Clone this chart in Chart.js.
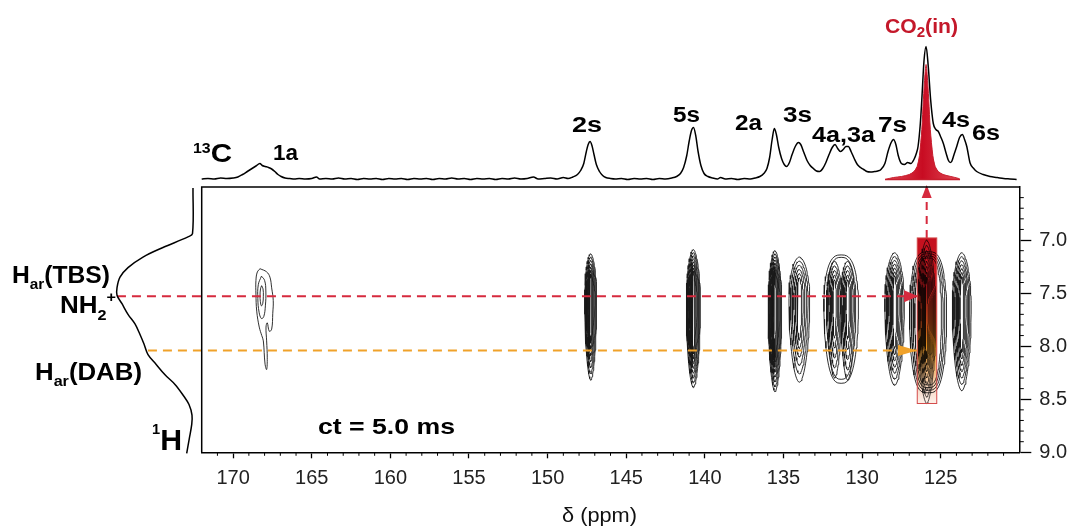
<!DOCTYPE html>
<html><head><meta charset="utf-8">
<script src="https://cdn.jsdelivr.net/npm/chart.js@4.4.1/dist/chart.umd.min.js"></script>
<style>html,body{margin:0;padding:0;background:#fff;}canvas{display:block;}</style>
</head><body>
<canvas id="c" width="1075" height="530"></canvas>
<script>
// ===================== DATA =====================
// 13C projection (top trace): chemical shift (ppm) and intensity (a.u.)
const c13Ppm = [172.0,171.6,171.2,170.8,170.4,170.0,169.7,169.4,169.1,168.8,168.55,168.3,168.15,167.95,167.75,167.55,167.35,167.15,166.95,166.7,166.4,166.1,165.8,165.4,165.0,164.7,164.5,164.1,163.7,163.3,162.9,162.5,162.1,161.7,161.3,160.9,160.5,160.1,159.7,159.3,158.9,158.5,158.1,157.7,157.3,156.9,156.5,156.1,155.7,155.3,154.9,154.5,154.1,153.7,153.3,152.9,152.5,152.1,151.7,151.3,150.9,150.6,150.2,149.8,149.4,149.0,148.7,148.4,148.1,147.9,147.7,147.55,147.42,147.3,147.18,147.05,146.9,146.7,146.5,146.3,146.0,145.7,145.3,144.9,144.5,144.1,143.7,143.3,142.9,142.5,142.1,141.8,141.55,141.35,141.15,141.0,140.85,140.72,140.58,140.43,140.25,140.05,139.8,139.5,139.2,139.0,138.7,138.3,137.9,137.5,137.1,136.8,136.5,136.25,136.05,135.88,135.72,135.58,135.45,135.3,135.12,134.95,134.8,134.62,134.45,134.25,134.05,133.9,133.7,133.5,133.3,133.1,132.9,132.7,132.5,132.3,132.1,131.9,131.72,131.55,131.38,131.2,131.02,130.87,130.7,130.5,130.3,130.1,129.9,129.7,129.45,129.2,129.0,128.8,128.55,128.35,128.15,128.0,127.85,127.7,127.5,127.3,127.1,126.9,126.7,126.55,126.44,126.3,126.2,126.06,125.93,125.79,125.64,125.47,125.3,125.15,124.98,124.83,124.65,124.52,124.4,124.3,124.15,123.98,123.8,123.62,123.48,123.34,123.13,122.9,122.71,122.3,121.86,121.4,121.0,120.6,120.17];
const c13Int = [0.5,1,0.5,1.5,1,1.5,2.5,5,8,11,13.5,16,14,13,12,10.5,8,5,3,1.5,1,0.5,1,0.5,1,2.5,0.5,1,0.5,1.5,0.5,1,0,1,0.5,1,0,1,0.5,1,0,1,0.5,1,0,1,0.5,1.5,0.5,1,0,1,0.5,1,0,1,0.5,1.5,0.5,1,2.5,0.5,1,1.5,0.5,2,1,2.5,5,9,16,27,35,38,34,25,15,8,4,2,1,0.5,1,0,1,0.5,1,0,1,0.5,1.5,3,6,12,24,38,49,52,44,28,14,6,3,1.5,0.5,2,0.5,1,0,1,0.5,1.5,3,6,11,22,40,51,45,32,21,15,13,17,25,33,37,35,27,19,14,11,8.5,8,11,17,25,32,35,31,28,30,33,33,28,21,15,12,10,8,7.5,8,8.5,10,16,28,37,40,35,24,16,15,17,16,20,26,33,55,80,119,133,113,80,56,50,48,42,36,26,19.5,17,18,25,33,42,45,40,33,16.5,11,8,5,3,2,1,0.5,0];
// deconvolved CO2(in) component
const co2Ppm = [128.54,128.0,127.5,127.0,126.7,126.5,126.35,126.2,126.1,126.0,125.93,125.86,125.76,125.66,125.5,125.35,125.15,124.85,124.35,123.85,123.77];
const co2Int = [0,2,3,5,8,13,24,50,80,105,115,105,80,50,24,13,8,5,3,1,0];
// 1H projection (left trace): shift (ppm) and intensity (a.u.)
const h1Ppm = [6.51,6.94,6.97,7.07,7.16,7.26,7.35,7.45,7.52,7.60,7.70,7.79,7.89,7.98,8.08,8.17,8.27,8.36,8.46,8.55,8.65,8.74,8.87,9.01];
const h1Int = [0,0.5,5,30,50,65,73,76,76,71,65,58,53,49,45,37,28,18,10,4,1,1.3,3.7,6.3];
// tick labels
const xTickLabels = [170,165,160,155,150,145,140,135,130,125];
const yTickLabels = [7.0,7.5,8.0,8.5,9.0];
// 2D cross peaks (13C shift, 1H extent, half-width in 13C, contour levels)
const peakNames = ['2s','5s','2a','3s','4a','3a','7s','CO2(in)','6s','4s','4a,3a'];
const peakC13   = [147.26,140.73,135.54,133.99,131.75,130.92,127.93,125.89,123.66,125.80,131.33];
const peakTop   = [7.13,7.09,7.10,7.16,7.20,7.20,7.12,7.00,7.12,7.11,7.14];
const peakBottom= [8.32,8.39,8.43,8.34,8.30,8.32,8.37,8.54,8.42,8.44,8.35];
const peakMid   = [7.55,7.60,7.62,7.55,7.55,7.55,7.60,7.70,7.62,7.70,7.60];
const peakHalfW = [0.38,0.45,0.43,0.66,0.44,0.44,0.62,0.58,0.60,1.18,1.10];
const peakLevels= [7,8,8,6,5,5,7,8,7,4,2];
// peak 1a (weak, irregular) contours
const p1aOuterC = [168.29,167.87,167.66,167.55,167.45,167.48,167.55,167.70,167.83,167.91,167.87,167.83,167.87,167.97,168.08,168.18,168.34,168.50,168.55,168.55,168.46,168.29];
const p1aOuterH = [7.27,7.30,7.35,7.45,7.57,7.69,7.84,7.86,7.78,7.82,7.95,8.11,8.22,8.17,7.95,7.90,7.82,7.67,7.51,7.38,7.30,7.27];
const p1aMidC = [168.2,168.0,167.92,167.95,168.05,168.2,168.35,168.43,168.4,168.2];
const p1aMidH = [7.34,7.38,7.48,7.62,7.72,7.74,7.68,7.55,7.42,7.34];
const p1aInC = [168.19,168.1,168.08,168.12,168.2,168.27,168.29,168.26,168.19];
const p1aInH = [7.43,7.46,7.53,7.6,7.62,7.58,7.52,7.46,7.43];
// guide lines (ppm)
const redGuideC13 = [177.39,126.44], redGuideH1 = 7.53;
const orangeGuideC13 = [175.42,126.51], orangeGuideH1 = 8.04;
const vertGuideC13 = 125.89, vertGuideH1 = [6.98,6.48];
const co2BoxC13 = [126.49,125.25], co2BoxH1 = [6.98,8.54];

// ===================== STYLE / BUILD =====================
const peakWMin = [0.2,0.18,0.18,0.22,0.25,0.25,0.2,0.15,0.2,0.72,0.85];
const peakHMin = [0.55,0.6,0.6,0.5,0.5,0.5,0.55,0.5,0.55,0.9,0.95];
const peakExp  = [1.15,1.15,1.15,1.1,1.1,1.1,1.1,1.2,1.1,0.6,0.7];
const peakLineW= [0.9,0.9,0.9,0.9,0.9,0.9,0.9,0.75,0.9,0.9,0.9];

function lens(c, top, bottom, mid, hw, p){
  const pts=[]; const N=64;
  for(let k=0;k<=N;k++){
    const t=2*Math.PI*k/N, u=Math.cos(t), v=Math.sin(t);
    pts.push({x:c+hw*Math.sign(v)*Math.pow(Math.abs(v),p), y:mid-(u>0?(mid-top):(bottom-mid))*u});
  }
  return pts;
}
const contourSets=[];
peakC13.forEach((c,i)=>{
  const n=peakLevels[i];
  for(let j=0;j<n;j++){
    const f=n>1?j/(n-1):0;
    const w=peakHalfW[i]*(1-(1-peakWMin[i])*f);
    const hs=1-(1-peakHMin[i])*f;
    const mid=peakMid[i];
    contourSets.push({data:lens(c, mid-(mid-peakTop[i])*hs, mid+(peakBottom[i]-mid)*hs, mid, w, peakExp[i]), tension:0, lw:peakLineW[i]});
  }
});
[[p1aOuterC,p1aOuterH],[p1aMidC,p1aMidH],[p1aInC,p1aInH]].forEach(([cs,hs])=>{
  contourSets.push({data:cs.map((c,k)=>({x:c,y:hs[k]})), tension:0.4, lw:0.9});
});

const datasets=[];
datasets.push({label:'13C', data:c13Ppm.map((p,i)=>({x:p,y:c13Int[i]})), xAxisID:'x', yAxisID:'yTop',
  borderColor:'#000', borderWidth:1.5, showLine:true, pointRadius:0, clip:false, cubicInterpolationMode:'monotone'});
datasets.push({label:'CO2', data:co2Ppm.map((p,i)=>({x:p,y:co2Int[i]})), xAxisID:'x', yAxisID:'yTop',
  borderColor:'#c81e2e', borderWidth:1, showLine:true, pointRadius:0, clip:false, tension:0.3, redFill:true});
datasets.push({label:'1H', data:h1Ppm.map((p,i)=>({x:h1Int[i],y:p})), xAxisID:'xProj', yAxisID:'y',
  borderColor:'#000', borderWidth:1.5, showLine:true, pointRadius:0, clip:false, tension:0.35});
datasets.push({label:'redGuide', data:redGuideC13.map(c=>({x:c,y:redGuideH1})), xAxisID:'x', yAxisID:'y',
  borderColor:'#d62a3e', borderWidth:2, borderDash:[9,6], showLine:true, pointRadius:0, clip:false, arrow:{len:14,half:6,color:'#d62a3e'}});
datasets.push({label:'orangeGuide', data:orangeGuideC13.map(c=>({x:c,y:orangeGuideH1})), xAxisID:'x', yAxisID:'y',
  borderColor:'#f0a22a', borderWidth:2, borderDash:[9,6], showLine:true, pointRadius:0, clip:false, arrow:{len:19,half:5.5,color:'#f0a22a'}});
datasets.push({label:'vertGuide', data:vertGuideH1.map(h=>({x:vertGuideC13,y:h})), xAxisID:'x', yAxisID:'y',
  borderColor:'#d62a3e', borderWidth:2, borderDash:[8,6], showLine:true, pointRadius:0, clip:false, arrow:{len:13,half:5,color:'#d62a3e'}});
contourSets.forEach(cs=>datasets.push({label:'contour', data:cs.data, xAxisID:'x', yAxisID:'y',
  borderColor:'#1a1a1a', borderWidth:cs.lw, showLine:true, pointRadius:0, tension:cs.tension, order:5}));

// ===================== PLUGINS =====================
const FONT='"Liberation Sans", Arial, Helvetica, sans-serif';
function rich(ctx, segs, left, right, baseline, color){
  let nat=0;
  segs.forEach(s=>{ctx.font=(s[3]||'bold')+' '+s[1]+'px '+FONT; nat+=ctx.measureText(s[0]).width;});
  let sx=(right-left)/nat; sx=Math.max(0.85,Math.min(1.3,sx));
  ctx.save(); ctx.translate(left,baseline); ctx.scale(sx,1);
  ctx.fillStyle=color; ctx.textAlign='left'; ctx.textBaseline='alphabetic';
  let x=0;
  segs.forEach(s=>{ctx.font=(s[3]||'bold')+' '+s[1]+'px '+FONT; ctx.fillText(s[0],x,s[2]||0); x+=ctx.measureText(s[0]).width;});
  ctx.restore();
}
const decor={
  id:'decor',
  beforeDatasetsDraw(chart){
    const ctx=chart.ctx;
    chart.data.datasets.forEach((ds,i)=>{
      if(!ds.redFill) return;
      const pts=chart.getDatasetMeta(i).data;
      ctx.save(); ctx.beginPath();
      pts.forEach((p,k)=>{k?ctx.lineTo(p.x,p.y):ctx.moveTo(p.x,p.y);});
      ctx.closePath();
      const gx=ctx.createLinearGradient(pts[0].x,0,pts[pts.length-1].x,0);
      gx.addColorStop(0,'#e04a56'); gx.addColorStop(0.5,'#c80c22'); gx.addColorStop(1,'#e04a56');
      ctx.fillStyle=gx; ctx.fill();
      ctx.beginPath(); ctx.moveTo(pts[0].x,pts[0].y); ctx.lineTo(pts[pts.length-1].x,pts[pts.length-1].y);
      ctx.strokeStyle='#c81e2e'; ctx.lineWidth=1.5; ctx.stroke();
      ctx.restore();
    });
  },
  afterDatasetsDraw(chart){
    const ctx=chart.ctx, xs=chart.scales.x, ys=chart.scales.y;
    // highlighted CO2 box, multiplied over the contours
    const x0=xs.getPixelForValue(co2BoxC13[0]), x1=xs.getPixelForValue(co2BoxC13[1]);
    const y0=ys.getPixelForValue(co2BoxH1[0]), y1=ys.getPixelForValue(co2BoxH1[1]);
    const g=ctx.createLinearGradient(0,y0,0,y1);
    g.addColorStop(0,'#c5101f'); g.addColorStop(0.3,'#c81a1e'); g.addColorStop(0.5,'#d8501c');
    g.addColorStop(0.65,'#e8921e'); g.addColorStop(0.8,'#f2b878'); g.addColorStop(0.92,'#f9dccb'); g.addColorStop(1,'#fdf1ea');
    ctx.save(); ctx.globalCompositeOperation='multiply'; ctx.fillStyle=g; ctx.fillRect(x0,y0,x1-x0,y1-y0);
    ctx.globalCompositeOperation='source-over';
    ctx.strokeStyle='#d44a4a'; ctx.lineWidth=1; ctx.strokeRect(x0,y0,x1-x0,y1-y0); ctx.restore();
    chart.data.datasets.forEach((ds,i)=>{
      if(!ds.arrow) return;
      const pts=chart.getDatasetMeta(i).data; const a=pts[pts.length-1], b=pts[pts.length-2];
      const ang=Math.atan2(a.y-b.y,a.x-b.x);
      ctx.save(); ctx.translate(a.x,a.y); ctx.rotate(ang);
      ctx.beginPath(); ctx.moveTo(0,0); ctx.lineTo(-ds.arrow.len,-ds.arrow.half); ctx.lineTo(-ds.arrow.len,ds.arrow.half); ctx.closePath();
      ctx.fillStyle=ds.arrow.color; ctx.fill(); ctx.restore();
    });
  },
  afterDraw(chart){
    const ctx=chart.ctx, a=chart.chartArea, xs=chart.scales.x, ys=chart.scales.y;
    ctx.save();
    ctx.strokeStyle='#000'; ctx.lineWidth=1.5;
    ctx.beginPath(); ctx.moveTo(a.left,a.bottom); ctx.lineTo(a.left,a.top); ctx.lineTo(a.right,a.top); ctx.stroke();
    ctx.lineWidth=1;
    for(let v=121; v<172; v++){ if(v%5===0) continue; const px=xs.getPixelForValue(v); ctx.beginPath(); ctx.moveTo(px,a.bottom); ctx.lineTo(px,a.bottom+3.5); ctx.stroke(); }
    for(let k=66; k<90; k++){ if(k%5===0) continue; const py=ys.getPixelForValue(k/10); ctx.beginPath(); ctx.moveTo(a.right,py); ctx.lineTo(a.right+4.5,py); ctx.stroke(); }
    ctx.restore();
    const black='#000', red='#c4182a';
    rich(ctx,[['13',14,-9],['C',26]],193,232,162,black);
    rich(ctx,[['1a',22]],273,298,160,black);
    rich(ctx,[['2s',22]],572,602,132,black);
    rich(ctx,[['5s',22]],673,700,122,black);
    rich(ctx,[['2a',22]],735,762,130,black);
    rich(ctx,[['3s',22]],783,812,122,black);
    rich(ctx,[['4a,3a',22]],812,875,142,black);
    rich(ctx,[['7s',22]],878,907,132,black);
    rich(ctx,[['4s',22]],942,970,127,black);
    rich(ctx,[['6s',22]],972,1000,140,black);
    rich(ctx,[['CO',21],['2',15,4],['(in)',21]],885,958,33,red);
    rich(ctx,[['H',24],['ar',15,6],['(TBS)',24]],12,110,283,black);
    rich(ctx,[['NH',24],['2',15,7],['+',15,-11]],60,116,313,black);
    rich(ctx,[['H',24],['ar',15,6],['(DAB)',24]],35,142,380,black);
    rich(ctx,[['1',14,-16],['H',29]],152,182,450,black);
    rich(ctx,[['ct = 5.0 ms',22]],318,455,434,black);
    rich(ctx,[['δ (ppm)',20,0,'normal']],562,637,522,'#111');
  }
};

// ===================== CHART =====================
new Chart(document.getElementById('c'),{
  type:'scatter',
  data:{datasets},
  plugins:[decor],
  options:{
    responsive:false, animation:false, events:[], devicePixelRatio:1,
    layout:{padding:{left:201.7,top:187,right:0,bottom:0}},
    plugins:{legend:{display:false},tooltip:{enabled:false},title:{display:false}},
    scales:{
      x:{type:'linear',position:'bottom',min:120,max:172,reverse:true,
        afterFit(s){s.height=77.7;},
        afterBuildTicks(s){s.ticks=xTickLabels.map(v=>({value:v}));},
        ticks:{font:{family:FONT,size:20},color:'#222',padding:8,maxRotation:0,autoSkip:false,callback:v=>String(v)},
        grid:{drawOnChartArea:false,drawTicks:true,tickLength:6,color:'#000',tickWidth:1.3},
        border:{display:true,color:'#000',width:1.5}},
      y:{type:'linear',position:'right',min:6.5,max:9.0,reverse:true,
        afterFit(s){s.width=55.7;},
        afterBuildTicks(s){s.ticks=yTickLabels.map(v=>({value:v}));},
        ticks:{font:{family:FONT,size:20},color:'#222',padding:8,autoSkip:false,callback:v=>Number(v).toFixed(1)},
        grid:{drawOnChartArea:false,drawTicks:true,tickLength:12,color:'#000',tickWidth:1.3},
        border:{display:true,color:'#000',width:1.5}},
      yTop:{type:'linear',display:false,min:-272.8,max:-7.5},
      xProj:{type:'linear',display:false,reverse:true,min:-826.3,max:-8.7}
    }
  }
});
</script>
</body></html>
